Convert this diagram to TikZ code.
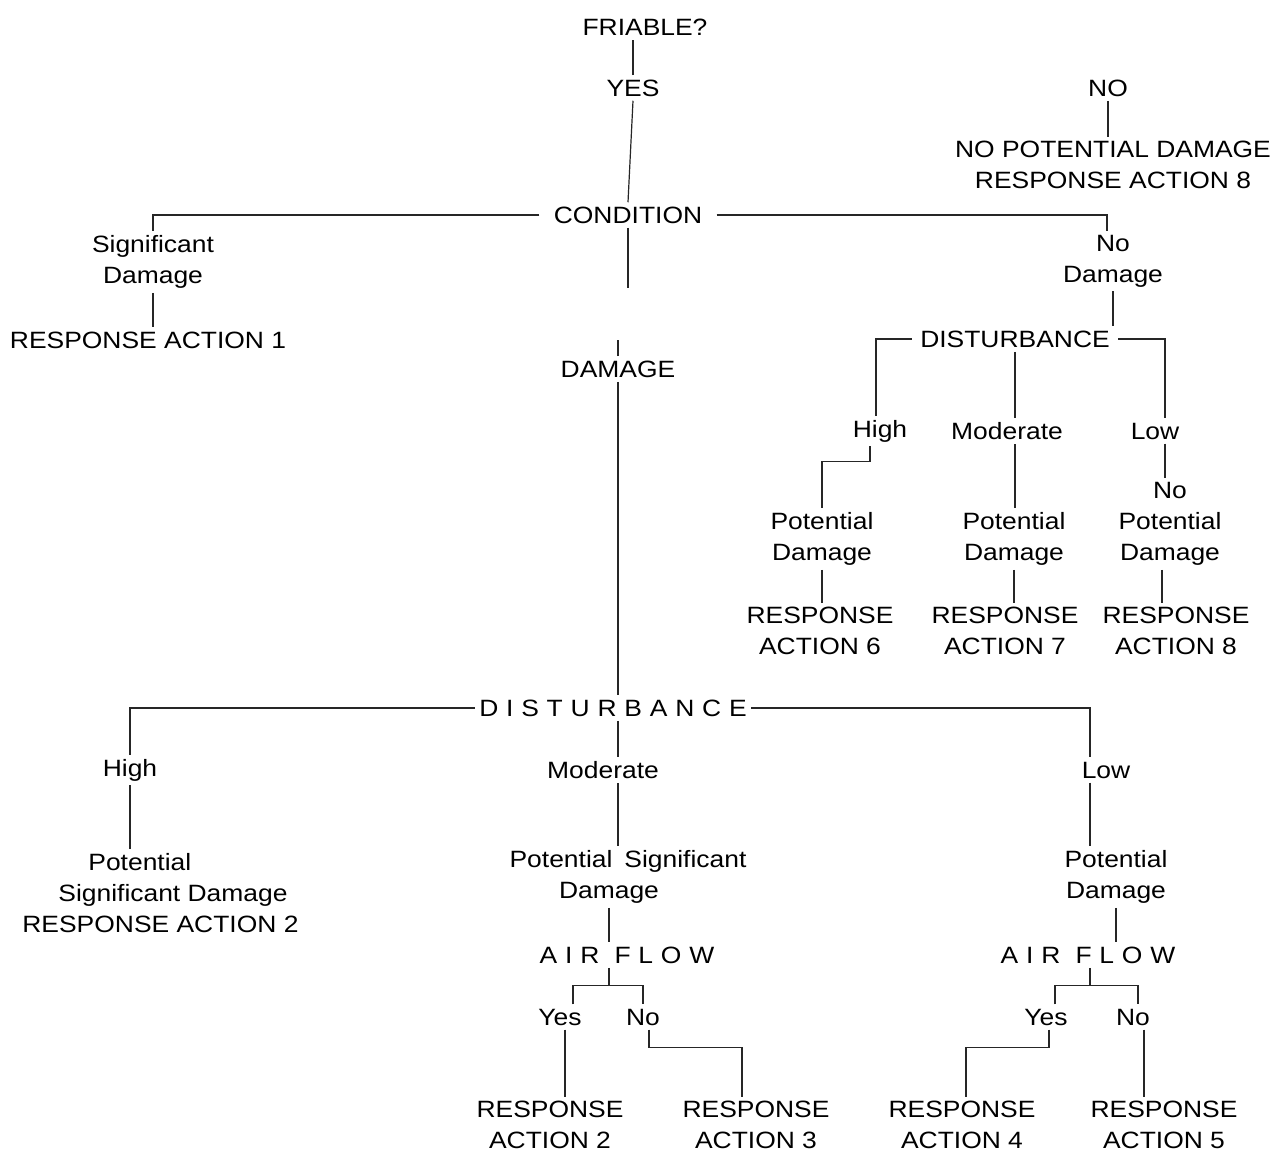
\documentclass[tikz,border=0pt]{standalone}
\usepackage{fontspec}
\setmainfont{Liberation Sans}[FakeStretch=1.12]
\newcommand\lsp{\hspace{3.9pt}}
\begin{document}
\begin{tikzpicture}[x=0.5pt,y=-0.5pt,
  lab/.style={inner sep=2pt,align=center,font=\fontsize{11.8}{15.5}\selectfont},
  conn/.style={line width=0.6pt,draw=black!85}]
\fill[white] (0,0) rectangle (1276,1151);
\useasboundingbox (0,0) rectangle (1276,1151);

% top
\node[lab] (friable) at (645,27) {FRIABLE?};
\node[lab] (yes) at (633,88) {YES};
\node[lab] (no) at (1108,88) {NO};
\node[lab] (nopd) at (1113,165) {NO POTENTIAL DAMAGE\\RESPONSE ACTION 8};
\node[lab] (cond) at (628,215) {CONDITION};
\node[lab] (sig) at (153,262) {Significant\\Damage};
\node[lab] (ra1) at (148,340) {RESPONSE ACTION 1};
\node[lab] (nodmg) at (1113,261) {No\\Damage};
\node[lab] (damage) at (618,369) {DAMAGE};

% right branch
\node[lab] (distb) at (1015,339) {DISTURBANCE};
\node[lab] (highb) at (880,431) {High};
\node[lab] (modb) at (1007,431) {Moderate};
\node[lab] (lowb) at (1155,431) {Low};
\node[lab] (pd6) at (822,539) {Potential\\Damage};
\node[lab] (pd7) at (1014,539) {Potential\\Damage};
\node[lab] (npd) at (1170,524) {No\\Potential\\Damage};
\node[lab] (ra6) at (820,631) {RESPONSE\\ACTION 6};
\node[lab] (ra7) at (1005,631) {RESPONSE\\ACTION 7};
\node[lab] (ra8) at (1176,631) {RESPONSE\\ACTION 8};

% main disturbance
\node[lab] (dista) at (613,708) {D\lsp I\lsp S\lsp T\lsp U\lsp R\lsp B\lsp A\lsp N\lsp C\lsp E};
\node[lab] (higha) at (130,770) {High};
\node[lab] (moda) at (603,770) {Moderate};
\node[lab] (lowa) at (1106,770) {Low};
\node[lab,align=left,anchor=west] (psd2) at (18,893) {\hspace*{33pt}Potential\\\hspace*{18pt}Significant Damage\\RESPONSE ACTION 2};
\node[lab] (psd) at (628,877) {Potential\hspace{6pt}Significant\\Damage\rule{19pt}{0pt}};
\node[lab] (pdr) at (1116,877) {Potential\\Damage};
\node[lab] (afa) at (627,955) {A\lsp I\lsp R\lsp\ F\lsp L\lsp O\lsp W};
\node[lab] (afb) at (1088,955) {A\lsp I\lsp R\lsp\ F\lsp L\lsp O\lsp W};
\node[lab] (yesa) at (560,1017) {Yes};
\node[lab] (noa) at (643,1017) {No};
\node[lab] (yesb) at (1046,1017) {Yes};
\node[lab] (nob) at (1133,1017) {No};
\node[lab] (ra2) at (550,1125) {RESPONSE\\ACTION 2};
\node[lab] (ra3) at (756,1125) {RESPONSE\\ACTION 3};
\node[lab] (ra4) at (962,1125) {RESPONSE\\ACTION 4};
\node[lab] (ra5) at (1164,1125) {RESPONSE\\ACTION 5};

\coordinate (sa) at (609,0);
\coordinate (sb) at (1090,0);

% connectors
\draw[conn] (yes.north) -- (yes.north |- friable.south);
\draw[conn] (yes.south) -- (cond.north);
\draw[conn] ([xshift=-5pt]cond.west) -| (sig.north);
\draw[conn] ([xshift=5pt]cond.east) -| ([xshift=-3pt]nodmg.north);
\draw[conn] (sig.south) -- (sig.south |- ra1.north);
\draw[conn] (no.south) -- (no.south |- nopd.north);
\draw[conn] (cond.south) -- ++(0,60);
\draw[conn] (damage.north) -- ++(0,-16);
\draw[conn] (nodmg.south) -- (nodmg.south |- distb.north);
\draw[conn] ([xshift=2pt]distb.east) -| ([xshift=5pt]lowb.north);
\draw[conn] ([xshift=-2pt]distb.west) -| ([xshift=-2pt]highb.north);
\draw[conn] (distb.south) -- (distb.south |- modb.north);
\draw[conn] ([xshift=-5pt]highb.south) -- ++(0,15) -| (pd6.north);
\draw[conn] (distb.south |- modb.south) -- (distb.south |- pd7.north);
\draw[conn] ([xshift=5pt]lowb.south) -- ([xshift=5pt]lowb.south |- npd.north);
\draw[conn] (pd6.south) -- (pd6.south |- ra6.north);
\draw[conn] (pd7.south) -- (pd7.south |- ra7.north);
\draw[conn] ([xshift=-4pt]npd.south) -- ([xshift=-4pt]npd.south |- ra8.north);

\draw[conn] (damage.south) -- (damage.south |- dista.north);
\draw[conn] (dista.west) -| (higha.north);
\draw[conn] (dista.east) -| ([xshift=-8pt]lowa.north);
\draw[conn] (damage.south |- dista.south) -- (damage.south |- moda.north);
\draw[conn] (damage.south |- moda.south) -- (damage.south |- psd.north);
\draw[conn] (higha.south) -- (higha.south |- psd2.north);
\draw[conn] ([xshift=-8pt]lowa.south) -- ([xshift=-8pt]lowa.south |- pdr.north);

\draw[conn] (psd.south -| sa) -- (afa.north -| sa);
\draw[conn] (pdr.south) -- (pdr.south |- afb.north);
\draw[conn] (afa.south -| sa) -- ++(0,18) coordinate (ja);
\draw[conn] ([xshift=6.5pt]yesa.north) |- (ja) -| (noa.north);
\draw[conn] ([xshift=2.5pt]yesa.south) -- ([xshift=2.5pt]yesa.south |- ra2.north);
\draw[conn] ([xshift=3pt]noa.south) -- ++(0,18) -| ([xshift=-7pt]ra3.north);
\draw[conn] (afb.south -| sb) -- ++(0,18) coordinate (jb);
\draw[conn] ([xshift=4.5pt]yesb.north) |- (jb) -| ([xshift=2.5pt]nob.north);
\draw[conn] ([xshift=1.5pt]yesb.south) -- ++(0,18) -| ([xshift=2pt]ra4.north);
\draw[conn] ([xshift=5.5pt]nob.south) -- ([xshift=5.5pt]nob.south |- ra5.north);
\end{tikzpicture}
\end{document}
